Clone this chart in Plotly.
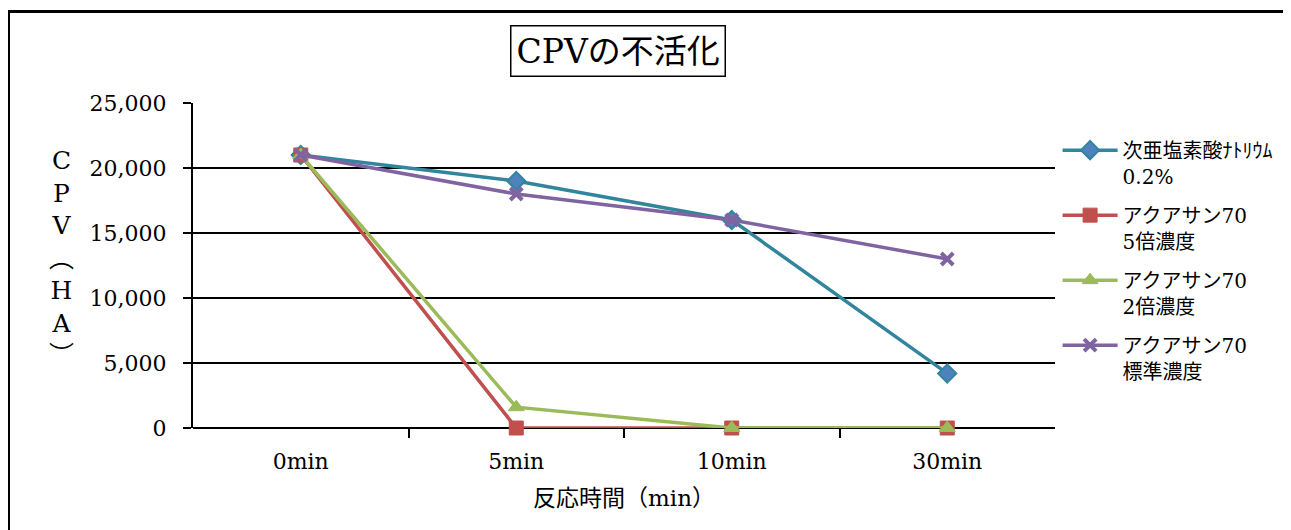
import plotly.graph_objects as go

categories = ["0min", "5min", "10min", "30min"]
series_names = ["次亜塩素酸ﾅﾄﾘｳﾑ<br>0.2%", "アクアサン70<br>5倍濃度", "アクアサン70<br>2倍濃度", "アクアサン70<br>標準濃度"]
naclo = [21000, 19000, 16000, 4200]
aq5 = [21000, 0, 0, 0]
aq2 = [21000, 1600, 0, 0]
aqstd = [21000, 18000, 16000, 13000]
y_ticks = [0, 5000, 10000, 15000, 20000, 25000]

FONT = "DejaVu Serif, Noto Sans CJK JP, serif"

styles = [
    dict(color="#31859C", symbol="diamond", size=14, fill="#4F81BD", lw=2),
    dict(color="#C0504D", symbol="square", size=14, fill="#C0504D", lw=1),
    dict(color="#9BBB59", symbol="triangle-up", size=14, fill="#9BBB59", lw=1),
    dict(color="#8064A2", symbol="x-thin", size=12, fill="#8064A2", lw=4),
]

fig = go.Figure()
for i, (name, vals, st) in enumerate(zip(series_names, [naclo, aq5, aq2, aqstd], styles)):
    fig.add_trace(go.Scatter(
        x=list(range(len(categories))), y=vals, name=name, mode="lines+markers",
        legendgroup=f"g{i}", cliponaxis=False,
        line=dict(color=st["color"], width=3.5),
        marker=dict(symbol=st["symbol"], size=st["size"], color=st["fill"],
                    line=dict(color=st["color"], width=st["lw"])),
    ))

fig.update_layout(
    width=1283, height=522,
    margin=dict(l=185, r=236, t=95, b=102),
    paper_bgcolor="white", plot_bgcolor="white",
    font=dict(family=FONT, size=22, color="black"),
    showlegend=True,
    legend=dict(x=1.003, y=0.915, xanchor="left", yanchor="top", valign="top",
                font=dict(family=FONT, size=20, color="black"),
                tracegroupgap=10, itemwidth=55),
    xaxis=dict(
        range=[-0.5, 3.5], tickmode="array", tickvals=list(range(len(categories))),
        ticktext=categories, showgrid=False, zeroline=False,
        showline=False, ticks="", tickfont=dict(size=22), ticklabelstandoff=18,
        title=dict(text="反応時間（min）", font=dict(size=23), standoff=16),
        minor=dict(tickmode="array", tickvals=[0.5, 1.5, 2.5], ticks="outside",
                   ticklen=9, tickcolor="black", tickwidth=1.5, showgrid=False),
    ),
    yaxis=dict(
        range=[0, 25000], tickvals=y_ticks, tickformat=",", showgrid=True,
        gridcolor="black", gridwidth=1.5, zeroline=True, zerolinecolor="black",
        zerolinewidth=2, showline=True, linecolor="black", linewidth=2,
        ticks="outside", ticklen=8, tickcolor="black", tickwidth=1.5,
        tickfont=dict(size=22), ticklabelstandoff=12,
    ),
)

# Chart title in a box
fig.add_annotation(
    text="CPVの不活化", xref="paper", yref="paper",
    x=(618 - 193) / 862, y=(428 - 51) / 325, xanchor="center", yanchor="middle",
    showarrow=False, font=dict(family=FONT, size=33, color="black"),
    bordercolor="black", borderwidth=1.5, borderpad=5, bgcolor="white",
)

# Vertical stacked y-axis title
fig.add_annotation(
    text="C<br>P<br>V<br>︵<br>H<br>A<br>︶", xref="paper", yref="paper",
    x=(61 - 193) / 862, y=(428 - 258) / 325, xanchor="center", yanchor="middle",
    showarrow=False, align="center", font=dict(family=FONT, size=25, color="black"),
)

# Outer chart border
fig.add_shape(type="rect", xref="paper", yref="paper",
              x0=(8.5 - 193) / 862, x1=(1288.5 - 193) / 862,
              y0=(428 - 545) / 325, y1=(428 - 11.5) / 325,
              line=dict(color="black", width=3), fillcolor="rgba(0,0,0,0)", layer="below")

fig.write_html("out.html")
